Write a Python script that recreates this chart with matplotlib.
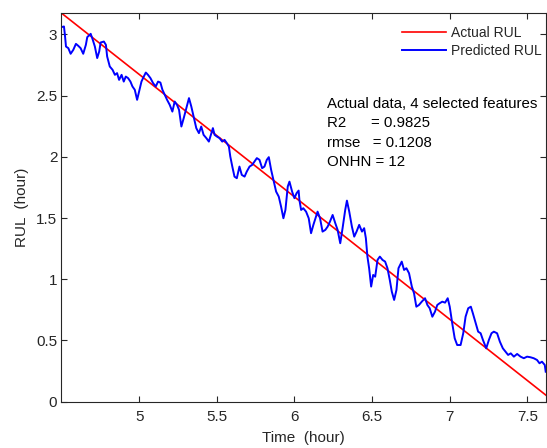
import matplotlib
matplotlib.use("Agg")
import matplotlib.pyplot as plt

# actual RUL (straight line) and predicted RUL
actual_time = [4.50, 7.62]
actual_rul = [3.173, 0.053]

pred_time = [4.501, 4.516, 4.522, 4.529, 4.544, 4.559, 4.576, 4.593, 4.608, 4.623,
             4.640, 4.657, 4.666, 4.688, 4.700, 4.715, 4.730, 4.743, 4.752, 4.773,
             4.786, 4.794, 4.811, 4.829, 4.844, 4.858, 4.871, 4.887, 4.901, 4.914,
             4.929, 4.944, 4.957, 4.972, 4.987, 5.000, 5.015, 5.030, 5.043, 5.057,
             5.073, 5.090, 5.107, 5.122, 5.137, 5.150, 5.165, 5.180, 5.197, 5.214,
             5.229, 5.244, 5.257, 5.272, 5.287, 5.304, 5.321, 5.336, 5.351, 5.368,
             5.385, 5.400, 5.415, 5.433, 5.449, 5.465, 5.475, 5.486, 5.501, 5.518,
             5.535, 5.550, 5.565, 5.578, 5.587, 5.600, 5.614, 5.629, 5.646, 5.661,
             5.679, 5.693, 5.711, 5.728, 5.743, 5.758, 5.775, 5.792, 5.807, 5.822,
             5.835, 5.850, 5.865, 5.882, 5.899, 5.914, 5.929, 5.942, 5.957, 5.968,
             5.985, 6.000, 6.014, 6.027, 6.032, 6.043, 6.057, 6.075, 6.092, 6.107,
             6.122, 6.139, 6.149, 6.165, 6.181, 6.199, 6.214, 6.229, 6.246, 6.263,
             6.278, 6.295, 6.310, 6.327, 6.338, 6.353, 6.370, 6.385, 6.400, 6.417,
             6.435, 6.449, 6.460, 6.470, 6.481, 6.494, 6.507, 6.520, 6.535, 6.550,
             6.567, 6.584, 6.599, 6.614, 6.627, 6.642, 6.657, 6.670, 6.691, 6.706,
             6.721, 6.738, 6.756, 6.770, 6.785, 6.802, 6.820, 6.841, 6.856, 6.871,
             6.888, 6.905, 6.920, 6.935, 6.952, 6.970, 6.987, 7.000, 7.016, 7.032,
             7.048, 7.070, 7.087, 7.102, 7.119, 7.136, 7.149, 7.167, 7.183, 7.199,
             7.214, 7.235, 7.252, 7.269, 7.284, 7.305, 7.323, 7.342, 7.359, 7.376,
             7.393, 7.413, 7.434, 7.456, 7.477, 7.498, 7.520, 7.541, 7.562, 7.578,
             7.594, 7.612, 7.618]
pred_rul = [3.059, 3.064, 2.996, 2.900, 2.887, 2.841, 2.873, 2.922, 2.906, 2.887,
            2.841, 2.914, 2.977, 3.004, 2.961, 2.900, 2.806, 2.860, 2.933, 2.941,
            2.914, 2.819, 2.737, 2.710, 2.669, 2.683, 2.628, 2.669, 2.614, 2.655,
            2.642, 2.614, 2.574, 2.547, 2.465, 2.533, 2.614, 2.655, 2.688, 2.669,
            2.642, 2.601, 2.574, 2.614, 2.606, 2.547, 2.506, 2.465, 2.424, 2.369,
            2.451, 2.424, 2.383, 2.247, 2.315, 2.397, 2.479, 2.410, 2.328, 2.234,
            2.193, 2.247, 2.179, 2.152, 2.124, 2.193, 2.234, 2.179, 2.165, 2.152,
            2.124, 2.138, 2.111, 2.083, 2.002, 1.920, 1.838, 1.825, 1.920, 1.852,
            1.838, 1.879, 1.920, 1.934, 1.961, 1.989, 1.975, 1.907, 1.920, 1.975,
            1.997, 1.893, 1.811, 1.716, 1.675, 1.593, 1.498, 1.566, 1.757, 1.797,
            1.716, 1.662, 1.703, 1.724, 1.648, 1.566, 1.580, 1.552, 1.498, 1.376,
            1.444, 1.511, 1.552, 1.498, 1.389, 1.403, 1.430, 1.471, 1.525, 1.458,
            1.403, 1.294, 1.417, 1.566, 1.642, 1.552, 1.430, 1.348, 1.389, 1.444,
            1.389, 1.417, 1.335, 1.185, 1.090, 0.940, 1.035, 1.021, 1.158, 1.185,
            1.158, 1.144, 1.090, 0.994, 0.899, 0.831, 0.913, 1.090, 1.144, 1.076,
            1.090, 1.049, 0.940, 0.886, 0.776, 0.790, 0.817, 0.845, 0.790, 0.763,
            0.694, 0.735, 0.790, 0.804, 0.817, 0.809, 0.845, 0.776, 0.641, 0.518,
            0.463, 0.463, 0.559, 0.694, 0.763, 0.776, 0.722, 0.641, 0.572, 0.559,
            0.504, 0.436, 0.504, 0.559, 0.572, 0.559, 0.490, 0.436, 0.409, 0.382,
            0.395, 0.368, 0.390, 0.368, 0.355, 0.368, 0.363, 0.355, 0.341, 0.314,
            0.327, 0.300, 0.245]

info_lines = ["Actual data, 4 selected features",
              "R2      = 0.9825",
              "rmse   = 0.1208",
              "ONHN = 12"]

x_ticks = [5, 5.5, 6, 6.5, 7, 7.5]
y_ticks = [0, 0.5, 1, 1.5, 2, 2.5, 3]

plt.rcParams['font.family'] = ['Liberation Sans', 'DejaVu Sans']
axc = '#262626'

fig = plt.figure(figsize=(5.47, 4.48), dpi=100)
ax = fig.add_axes([0.1124, 0.1033, 0.8858, 0.8666])

ax.plot(actual_time, actual_rul, color='#ff0000', lw=1.2, label='Actual RUL')
ax.plot(pred_time, pred_rul, color='#0000ff', lw=1.4, label='Predicted RUL')

ax.set_xlim(4.5, 7.62)
ax.set_ylim(0, 3.17)
ax.set_xticks(x_ticks)
ax.set_xticklabels(['5', '5.5', '6', '6.5', '7', '7.5'])
ax.set_yticks(y_ticks)
ax.set_yticklabels(['0', '0.5', '1', '1.5', '2', '2.5', '3'])
ax.tick_params(direction='in', top=True, right=True, length=4, width=0.8,
               colors=axc, labelsize=11)
ax.tick_params(axis='x', pad=6)
ax.tick_params(axis='y', pad=3)
for s in ax.spines.values():
    s.set_color(axc)
    s.set_linewidth(0.8)

ax.set_xlabel('Time  (hour)', fontsize=11, color=axc, labelpad=5)
ax.set_ylabel('RUL  (hour)', fontsize=11, color=axc, labelpad=5)

leg = ax.legend(loc='upper right', bbox_to_anchor=(0.991, 0.968), frameon=False,
                fontsize=10, handlelength=3.2, handletextpad=0.35,
                labelspacing=0.3, borderpad=0, borderaxespad=0)
for t in leg.get_texts():
    t.set_color(axc)

for i, line in enumerate(info_lines):
    ax.text(0.547, 0.767 - i * 0.0502, line, transform=ax.transAxes,
            fontsize=10.8, va='center', ha='left', color='black')

fig.savefig('out.png', dpi=100)
